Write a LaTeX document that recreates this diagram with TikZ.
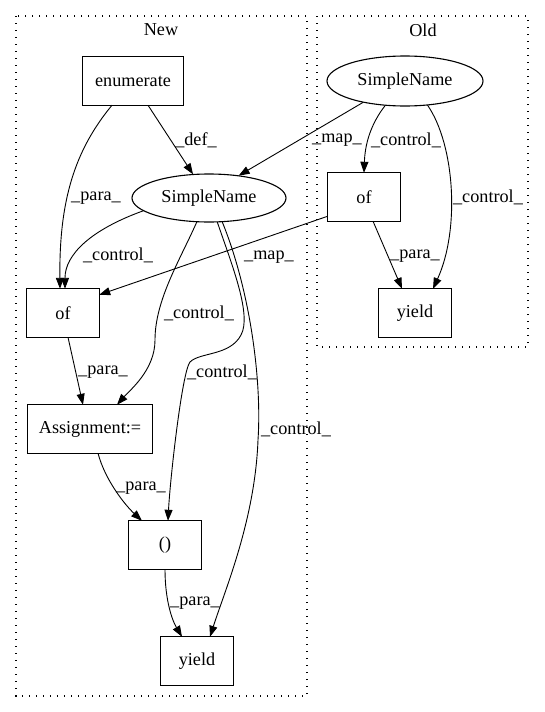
\documentclass[tikz,border=0pt]{standalone}
\usepackage{fontspec}
\setmainfont{Liberation Serif}
\usetikzlibrary{arrows.meta,shapes.geometric}
\begin{document}
\begin{tikzpicture}[x=1pt,y=-1pt,
  every node/.style={font=\fontsize{18.2}{20}\selectfont},
  box/.style={rectangle,inner sep=0pt,minimum height=48pt},
  ell/.style={ellipse,inner sep=0pt},
  border/.style={line width=1.1pt},
  lbl/.style={inner sep=0pt},
  edge/.style={line width=0.9pt,-{Triangle[length=11pt,width=8pt]}},
  cluster/.style={line width=1.3pt,dash pattern=on 1.4pt off 5.6pt}]
\useasboundingbox (0,0) rectangle (544,712);
% clusters
\draw[cluster] (16,16) rectangle (307,696);
\draw[cluster] (317,16) rectangle (528,347);
\node[lbl] (tnew) at (161,30) {New};
\node[lbl] (told) at (423,30) {Old};
% nodes
\node[box,minimum width=100pt] (enum) at (133,81) {enumerate};
\node[ell,minimum width=154pt,minimum height=48pt] (sn) at (209,198) {SimpleName};
\node[ell,minimum width=156pt,minimum height=50pt] (sno) at (405,81) {SimpleName};
\node[box,minimum width=72pt] (ofo) at (364,197) {of};
\node[box,minimum width=72pt] (yieldo) at (415,313) {yield};
\node[box,minimum width=72pt] (ofn) at (63,313) {of};
\node[box,minimum width=125pt] (assign) at (90,429) {Assignment:=};
\node[box,minimum width=72pt] (paren) at (165,545) {()};
\node[box,minimum width=72pt] (yieldn) at (197,661) {yield};
% node borders
\foreach \n in {enum,ofo,yieldo,ofn,assign,paren,yieldn}
  \draw[border] (\n.south west) rectangle (\n.north east);
\draw[border] (sn.center) ellipse [x radius=77, y radius=24];
\draw[border] (sno.center) ellipse [x radius=78, y radius=25];
% edges
\draw[edge] ([xshift=15pt]enum.south) -- (sn.124);
\draw[edge] ([xshift=-21pt]enum.south) .. controls (75,150) and (59,200) .. ([xshift=-3pt]ofn.north);
\draw[edge] (sn.191) .. controls (90,230) and (65,255) .. ([xshift=2pt]ofn.north);
\draw[edge] (sno.207.6) -- (sn.37.7);
\draw[edge] (sno.-129.8) .. controls (370,125) and (365,145) .. (ofo.north);
\draw[edge] (sno.-47.5) .. controls (455,145) and (460,230) .. ([xshift=18pt]yieldo.north);
\draw[edge] ([xshift=9pt]ofo.south) -- ([xshift=-13pt]yieldo.north);
\draw[edge] ([yshift=5pt]ofo.south west) -- ([yshift=-6pt]ofn.north east);
\draw[edge] ([xshift=5pt]ofn.south) -- ([xshift=-7pt]assign.north);
\draw[edge] (sn.-117.5) .. controls (180,260) and (155,300) .. (155,340) .. controls (155,370) and (130,390) .. ([xshift=27pt]assign.north);
\draw[edge] (sn.-71.6) .. controls (232,265) and (252,315) .. (241,335) .. controls (230,356) and (200,352) .. (190,362) .. controls (182,372) and (170,480) .. ([xshift=3pt]paren.north);
\draw[edge] (sn.-61.6) .. controls (250,290) and (262,380) .. (258,440) .. controls (255,520) and (225,590) .. ([xshift=13pt]yieldn.north);
\draw[edge] ([xshift=8pt]assign.south) .. controls (105,480) and (125,505) .. ([xshift=-23pt]paren.north);
\draw[edge] (paren.south) .. controls (165,600) and (172,620) .. ([xshift=-15pt]yieldn.north);
% edge labels
\node[lbl] (l1) at (196,140) {\_def\_};
\node[lbl] (l2) at (96,198) {\_para\_};
\node[lbl] (l3) at (118,255) {\_control\_};
\node[lbl] (l4) at (337,140) {\_map\_};
\node[lbl] (l5) at (406,140) {\_control\_};
\node[lbl] (l6) at (488,197) {\_control\_};
\node[lbl] (l7) at (415,256) {\_para\_};
\node[lbl] (l8) at (269,257) {\_map\_};
\node[lbl] (l9) at (103,372) {\_para\_};
\node[lbl] (l10) at (199,313) {\_control\_};
\node[lbl] (l11) at (222,372) {\_control\_};
\node[lbl] (l12) at (296,429) {\_control\_};
\node[lbl] (l13) at (141,488) {\_para\_};
\node[lbl] (l14) at (195,603) {\_para\_};
\end{tikzpicture}
\end{document}
